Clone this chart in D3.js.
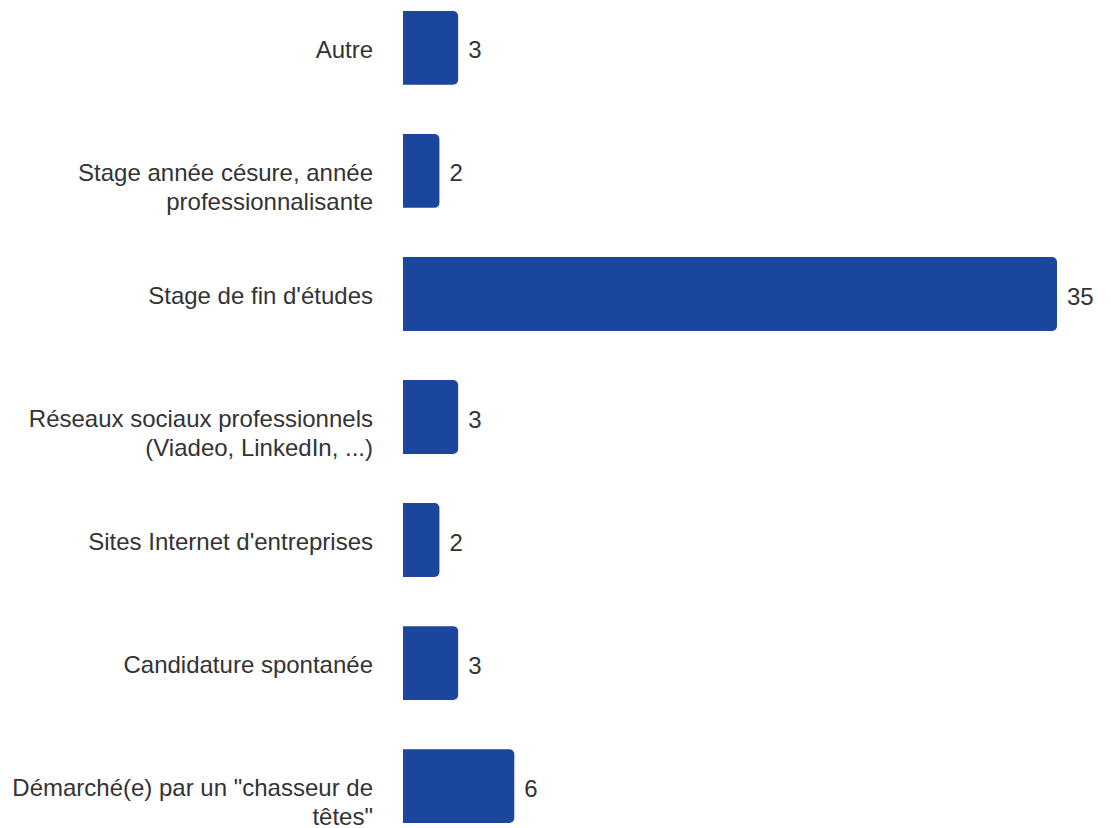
<!DOCTYPE html>
<html>
<head>
<meta charset="utf-8">
<script src="https://cdn.jsdelivr.net/npm/d3@7"></script>
<style>
  body { margin: 0; background: #fff; }
  svg { display: block; font-family: Arial, "Liberation Sans", sans-serif; }
</style>
</head>
<body>
<div id="chart"></div>
<script>
const categories = [
    "Autre",
    "Stage année césure, année professionnalisante",
    "Stage de fin d'études",
    "Réseaux sociaux professionnels (Viadeo, LinkedIn, ...)",
    "Sites Internet d'entreprises",
    "Candidature spontanée",
    "Démarché(e) par un \"chasseur de têtes\""
];
const counts = [3, 2, 35, 3, 2, 3, 6];

const width = 1111;
const height = 828;
const barLeft = 403;
const barRight = 1058;

const data = categories.map((c, i) => ({ label: c, value: counts[i] }));

const svg = d3.select("#chart")
    .append("svg")
    .attr("width", width)
    .attr("height", height);

const xScale = d3.scaleLinear()
    .domain([0, d3.max(counts)])
    .range([barLeft, barRight]);

const yScale = d3.scaleBand()
    .domain(categories)
    .range([11, 823])
    .paddingInner(0.4)
    .paddingOuter(0);

// bar with rounded right corners only
function barPath(x0, x1, y0, h, r) {
    const p = d3.path();
    r = Math.min(r, (x1 - x0) / 2, h / 2);
    p.moveTo(x0, y0);
    p.lineTo(x1 - r, y0);
    p.arcTo(x1, y0, x1, y0 + r, r);
    p.lineTo(x1, y0 + h - r);
    p.arcTo(x1, y0 + h, x1 - r, y0 + h, r);
    p.lineTo(x0, y0 + h);
    p.closePath();
    return p.toString();
}

svg.selectAll("path.bar")
    .data(data)
    .join("path")
    .attr("class", "bar")
    .attr("fill", "#1a479d")
    .attr("d", d => barPath(xScale(0), xScale(d.value) - 1, yScale(d.label), yScale.bandwidth(), 5));

// value labels
svg.selectAll("text.value")
    .data(data)
    .join("text")
    .attr("class", "value")
    .attr("x", d => xScale(d.value) + 9)
    .attr("y", d => yScale(d.label) + yScale.bandwidth() / 2)
    .attr("dy", "0.44em")
    .style("font-size", "24px")
    .style("fill", "#333333")
    .text(d => d.value);

// category labels, wrapped, first line centred on the bar
const labels = svg.selectAll("text.label")
    .data(data)
    .join("text")
    .attr("class", "label")
    .attr("x", 373)
    .attr("y", d => yScale(d.label) + yScale.bandwidth() / 2)
    .attr("text-anchor", "end")
    .style("font-size", "24px")
    .style("fill", "#333333");

labels.each(function (d) {
    const text = d3.select(this);
    const words = d.label.split(" ");
    const maxWidth = 365;
    let line = [];
    let tspan = text.append("tspan").attr("x", 373).attr("dy", "0.42em");
    words.forEach(w => {
        line.push(w);
        tspan.text(line.join(" "));
        if (tspan.node().getComputedTextLength() > maxWidth && line.length > 1) {
            line.pop();
            tspan.text(line.join(" "));
            line = [w];
            tspan = text.append("tspan").attr("x", 373).attr("dy", "29px").text(w);
        }
    });
});
</script>
</body>
</html>
